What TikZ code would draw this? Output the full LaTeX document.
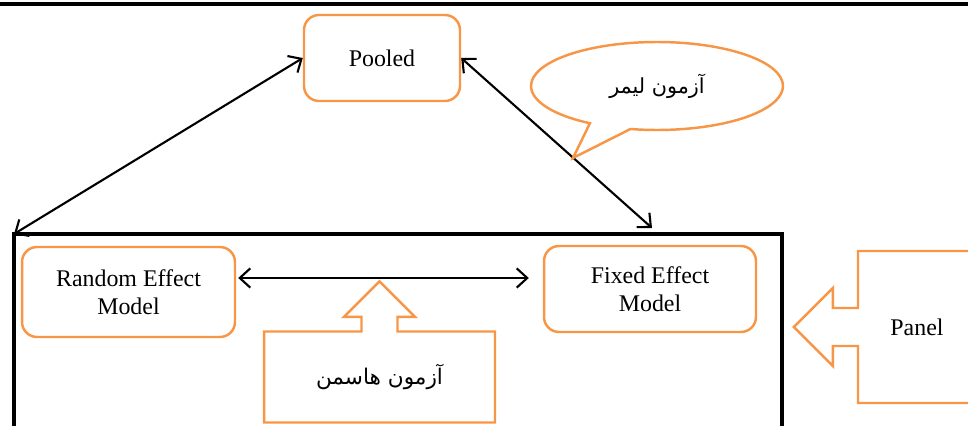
\documentclass[tikz,border=0pt]{standalone}
\usepackage{fontspec}
\setmainfont{Liberation Serif}
\newfontfamily\arabicfont[Script=Arabic]{DejaVu Sans}
\TeXXeTstate=1
\usetikzlibrary{arrows.meta,shapes.callouts,shapes.arrows}
\definecolor{boxorange}{HTML}{F79646}
\tikzset{
  modelbox/.style={draw=boxorange,line width=1.4pt,rounded corners=0.3cm,align=center,
    font=\fontsize{13.6}{16}\selectfont},
  testbox/.style={draw=boxorange,line width=1.4pt,font=\fontsize{13.6}{16}\selectfont},
  link/.style={line width=1.2pt,{Straight Barb[length=6pt,width=11pt]}-{Straight Barb[length=6pt,width=11pt]}}
}
\begin{document}
\begin{tikzpicture}[x=0.02cm,y=-0.02cm]
\useasboundingbox (0,0) rectangle (968,426);
\draw[line width=1.8pt](0,4)--(968,4);
\draw[line width=2.2pt](14,432)--(14,234)coordinate(corner)--(782,234)--(782,432);
\node[modelbox,minimum width=3.12cm,minimum height=1.72cm](pooled)at(382,58){Pooled};
\node[modelbox,minimum width=4.26cm,minimum height=1.8cm](random)at(128.5,292){Random Effect\\Model};
\node[modelbox,minimum width=4.24cm,minimum height=1.72cm](fixed)at(650,289){Fixed Effect\\Model};
\coordinate(fixtop)at(652,228);
\coordinate(limer)at(573,158);
\draw[link](corner)--(pooled.west);
\draw[link](pooled.east)--(fixtop);
\draw[link]([shift={(2,-14)}]random.east)--([shift={(-14,-11)}]fixed.west);
\node[ellipse callout,testbox,minimum width=5.04cm,minimum height=1.76cm,
  callout absolute pointer={(limer)},callout pointer arc=20](lm)at(657,86)
  {\arabicfont\fontsize{11.8}{15}\selectfont\beginR آزمون لیمر\endR};
\node[arrow box,testbox,minimum width=4.62cm,minimum height=1.82cm,
  arrow box arrows={north:0.98cm from border},arrow box shaft width=0.72cm,
  arrow box head extend=0.35cm](hausman)at(379.5,377)
  {\arabicfont\fontsize{12.3}{15}\selectfont\beginR آزمون هاسمن\endR};
\node[arrow box,testbox,minimum width=2.36cm,minimum height=3.04cm,
  arrow box arrows={west:1.26cm from border},arrow box shaft width=0.76cm,
  arrow box head extend=0.4cm](panel)at(917,327){Panel};
\end{tikzpicture}
\end{document}
